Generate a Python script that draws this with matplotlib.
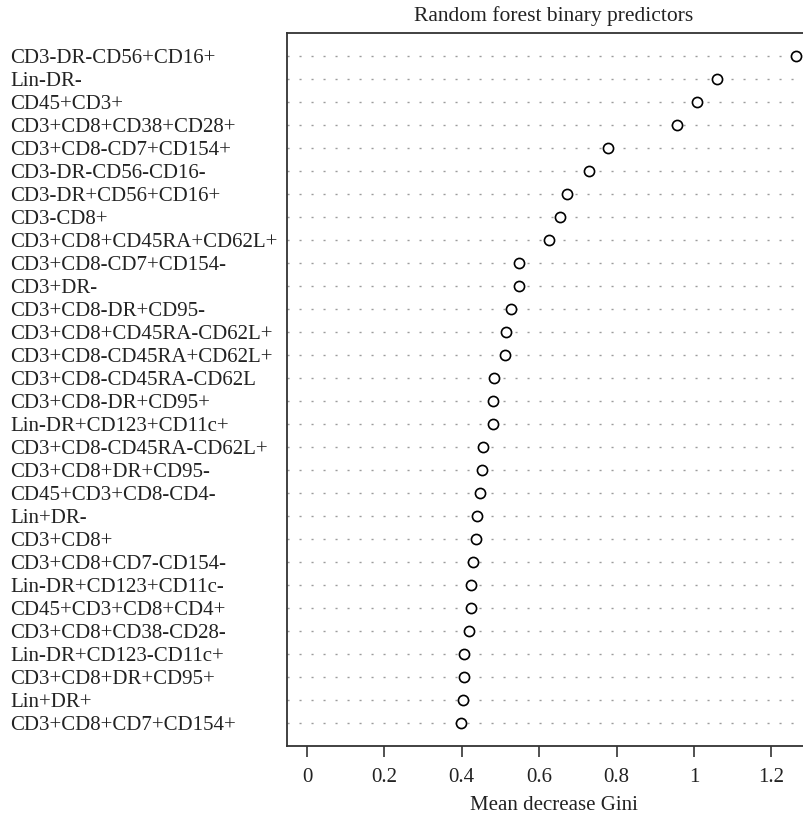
import numpy as np
import matplotlib
matplotlib.use("Agg")
import matplotlib.pyplot as plt

# predictors, top to bottom
labels = [
    "CD3-DR-CD56+CD16+", "Lin-DR-", "CD45+CD3+", "CD3+CD8+CD38+CD28+",
    "CD3+CD8-CD7+CD154+", "CD3-DR-CD56-CD16-", "CD3-DR+CD56+CD16+", "CD3-CD8+",
    "CD3+CD8+CD45RA+CD62L+", "CD3+CD8-CD7+CD154-", "CD3+DR-", "CD3+CD8-DR+CD95-",
    "CD3+CD8+CD45RA-CD62L+", "CD3+CD8-CD45RA+CD62L+", "CD3+CD8-CD45RA-CD62L",
    "CD3+CD8-DR+CD95+", "Lin-DR+CD123+CD11c+", "CD3+CD8-CD45RA-CD62L+",
    "CD3+CD8+DR+CD95-", "CD45+CD3+CD8-CD4-", "Lin+DR-", "CD3+CD8+",
    "CD3+CD8+CD7-CD154-", "Lin-DR+CD123+CD11c-", "CD45+CD3+CD8+CD4+",
    "CD3+CD8+CD38-CD28-", "Lin-DR+CD123-CD11c+", "CD3+CD8+DR+CD95+",
    "Lin+DR+", "CD3+CD8+CD7+CD154+",
]
gini = [
    1.264, 1.059, 1.009, 0.956, 0.779, 0.728, 0.673, 0.654, 0.625, 0.549,
    0.547, 0.528, 0.515, 0.512, 0.483, 0.481, 0.481, 0.456, 0.453, 0.448,
    0.439, 0.436, 0.430, 0.425, 0.423, 0.418, 0.406, 0.406, 0.402, 0.399,
]
xticks = [0, 0.2, 0.4, 0.6, 0.8, 1.0, 1.2]
xtick_labels = ["0", "0.2", "0.4", "0.6", "0.8", "1", "1.2"]

font = "Liberation Serif"
fs = 15
text_color = "#222222"

W, H = 804, 815
fig = plt.figure(figsize=(W / 100, H / 100), dpi=100)
# axes runs a little past the right edge, as in the reference
ax_l, ax_r, ax_t, ax_b = 287, 820, 33, 746
ax = fig.add_axes([ax_l / W, 1 - ax_b / H, (ax_r - ax_l) / W, (ax_b - ax_t) / H])

n = len(labels)
ypos = np.arange(n, 0, -1)

for y in ypos:
    ax.axhline(y, color="#9c9c9c", lw=1.0, dashes=(1.5, 7.14),
               solid_capstyle="butt", dash_capstyle="butt")
ax.plot(gini, ypos, "o", mfc="white", mec="black", ms=7.3, mew=1.2, ls="none")

ax.set_xlim(-0.0517, -0.0517 + (ax_r - ax_l) / 387.0)
ax.set_ylim(0, n + 1)

ax.set_xticks(xticks)
ax.set_xticklabels(xtick_labels, fontsize=fs, family=font, color=text_color)
ax.tick_params(axis="x", length=8, width=1.2, color="#333333", pad=7.5)

ax.set_yticks(ypos)
ax.set_yticklabels(labels, fontsize=fs, family=font, color=text_color, ha="left")
ax.tick_params(axis="y", length=0, pad=(ax_l - 10) * 0.72)

for s in ax.spines.values():
    s.set_linewidth(1.3)
    s.set_color("#333333")

ax.set_title("Random forest binary predictors", fontsize=15.5, family=font,
             color=text_color, pad=9)
ax.set_xlabel("Mean decrease Gini", fontsize=fs, family=font, color=text_color,
              labelpad=6.5)

fig.savefig("out.png", dpi=100)
